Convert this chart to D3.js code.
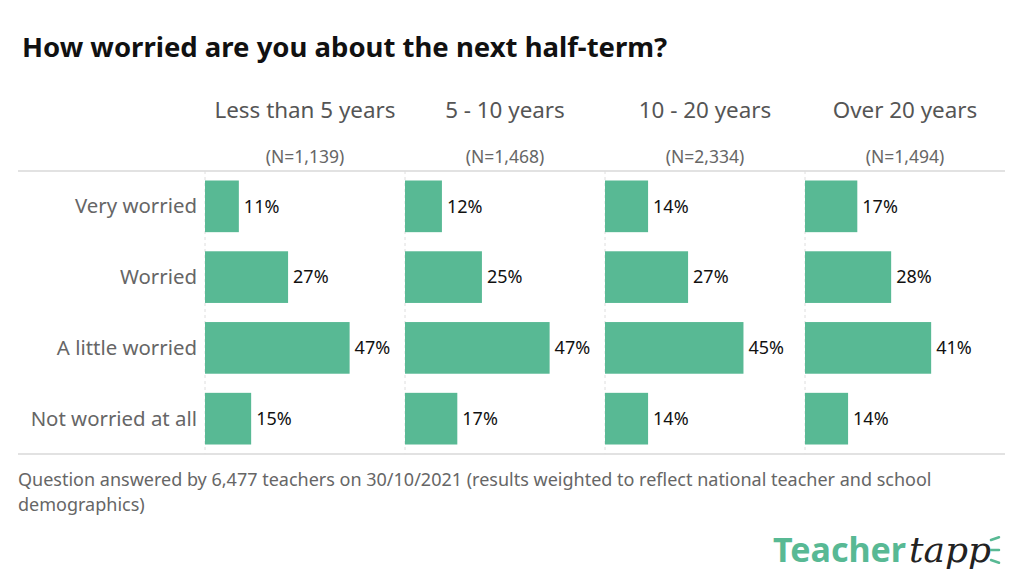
<!DOCTYPE html>
<html>
<head>
<meta charset="utf-8">
<script src="https://cdn.jsdelivr.net/npm/d3@7"></script>
<style>
  body { margin: 0; background: #fff; }
  text { font-family: "Noto Sans", Lato, sans-serif; }
</style>
</head>
<body>
<div id="chart"></div>
<script>
const groups = ["Less than 5 years", "5 - 10 years", "10 - 20 years", "Over 20 years"];
const groupN = ["(N=1,139)", "(N=1,468)", "(N=2,334)", "(N=1,494)"];
const answers = ["Very worried", "Worried", "A little worried", "Not worried at all"];
const values = [
    [11, 27, 47, 15],
    [12, 25, 47, 17],
    [14, 27, 45, 14],
    [17, 28, 41, 14]
];

const W = 1024, H = 585;
const green = "#58b994";

const svg = d3.select("#chart")
    .append("svg")
    .attr("width", W)
    .attr("height", H);

// title
svg.append("text")
    .attr("x", 22)
    .attr("y", 57)
    .style("font-size", "27.5px")
    .style("font-weight", "bold")
    .style("fill", "#111")
    .text("How worried are you about the next half-term?");

const yTop = 171, yBottom = 454;

// panels across
const px = d3.scaleBand()
    .domain(groups)
    .range([205, 1005])
    .paddingInner(0);

// rows down
const y = d3.scaleBand()
    .domain(answers)
    .range([yTop + 1, yBottom - 1])
    .paddingInner(0.27)
    .paddingOuter(0.12);

// bar length in %
const x = d3.scaleLinear()
    .domain([0, 65])
    .range([0, 200]);

// outer rules
svg.append("line")
    .attr("x1", 18).attr("x2", 1005)
    .attr("y1", yTop).attr("y2", yTop)
    .style("stroke", "#d9d9d9").style("stroke-width", 1.5);
svg.append("line")
    .attr("x1", 18).attr("x2", 1005)
    .attr("y1", yBottom).attr("y2", yBottom)
    .style("stroke", "#d9d9d9").style("stroke-width", 1.5);

// row labels
svg.selectAll(".rowlab")
    .data(answers)
    .enter()
    .append("text")
    .attr("class", "rowlab")
    .attr("x", 197)
    .attr("y", d => y(d) + y.bandwidth() / 2)
    .attr("dy", ".35em")
    .attr("text-anchor", "end")
    .style("font-size", "20.4px")
    .style("fill", "#666")
    .text(d => d);

groups.forEach((g, gi) => {
    const g0 = px(g);
    const cx = g0 + px.bandwidth() / 2;

    svg.append("text")
        .attr("x", cx)
        .attr("y", 118)
        .attr("text-anchor", "middle")
        .style("font-size", "22.4px")
        .style("fill", "#555")
        .text(g);

    svg.append("text")
        .attr("x", cx)
        .attr("y", 163)
        .attr("text-anchor", "middle")
        .style("font-size", "17.5px")
        .style("fill", "#666")
        .text(groupN[gi]);

    // dashed panel edge
    svg.append("line")
        .attr("x1", g0).attr("x2", g0)
        .attr("y1", yTop).attr("y2", yBottom)
        .style("stroke", "#dedede")
        .style("stroke-dasharray", "3,3");

    const rows = answers.map((a, i) => ({a, v: values[gi][i]}));

    svg.selectAll(".bar" + gi)
        .data(rows)
        .enter()
        .append("rect")
        .attr("class", "bar" + gi)
        .attr("x", g0)
        .attr("y", d => y(d.a))
        .attr("width", d => x(d.v))
        .attr("height", y.bandwidth())
        .style("fill", green);

    svg.selectAll(".val" + gi)
        .data(rows)
        .enter()
        .append("text")
        .attr("class", "val" + gi)
        .attr("x", d => g0 + x(d.v) + 5)
        .attr("y", d => y(d.a) + y.bandwidth() / 2)
        .attr("dy", ".35em")
        .style("font-size", "18px")
        .style("fill", "#111")
        .text(d => d.v + "%");
});

// footnote
const foot = ["Question answered by 6,477 teachers on 30/10/2021 (results weighted to reflect national teacher and school",
              "demographics)"];
svg.selectAll(".foot")
    .data(foot)
    .enter()
    .append("text")
    .attr("class", "foot")
    .attr("x", 18)
    .attr("y", (d, i) => 486 + i * 25)
    .style("font-size", "18px")
    .style("fill", "#666")
    .text(d => d);

// logo
const logo = svg.append("g").attr("transform", "translate(773,562)");
logo.append("text")
    .style("font-size", "34px")
    .style("font-weight", "bold")
    .style("fill", green)
    .text("Teacher");
logo.append("text")
    .attr("x", 136)
    .style("font-size", "36px")
    .style("font-style", "italic")
    .style("font-family", "'DejaVu Serif', serif")
    .style("fill", "#222")
    .text("tapp");
[[-20, -8], [0, 0], [20, 8]].forEach(([a, b]) => {
    logo.append("line")
        .attr("x1", 218).attr("y1", -12 + a * 0.5)
        .attr("x2", 226).attr("y2", -12 + a * 0.6 + b * 0.1)
        .style("stroke", green).style("stroke-width", 2.5)
        .style("stroke-linecap", "round");
});
</script>
</body>
</html>
